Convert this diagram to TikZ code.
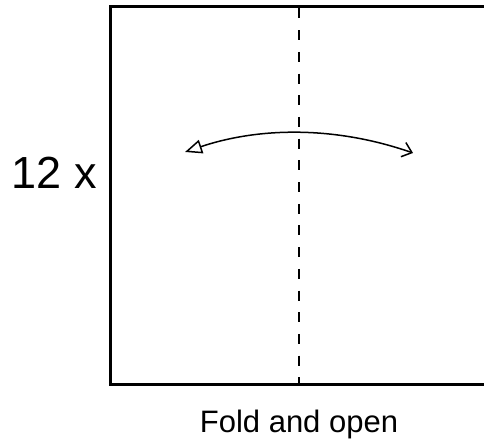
\documentclass[tikz,border=0pt]{standalone}
\usepackage{fontspec}
\setmainfont{Liberation Sans}
\usetikzlibrary{calc, positioning}
\usetikzlibrary{arrows.meta}

\begin{document}
\begin{tikzpicture}[x=1pt,y=1pt]
\useasboundingbox (0,0) rectangle (484,444);
\coordinate (A) at (110,59);
\coordinate (B) at (488.5,59);
\coordinate (C) at (488.5,437.5);
\coordinate (D) at (110,437.5);
\coordinate (MB) at ($(A)!0.5!(B)$);
\coordinate (MT) at ($(D)!0.5!(C)$);
\coordinate (L) at (185,292);
\coordinate (R) at (413,291);

\draw[line width=3pt] (A) -- (B) -- (C) -- (D) -- cycle;
\draw[line width=1.8pt,dash pattern=on 10pt off 11.7pt,dash phase=-2pt] (MT) -- (MB);

\draw[line width=1.5pt,
  {Triangle[open,length=17pt,width=14pt,fill=white]}-{Straight Barb[length=9pt,width=15pt]}]
  (L) .. controls (261,317.5) and (337,317.5) .. (R);

\node[anchor=base,font=\fontsize{45}{45}\selectfont] at (54.5,255) {12 x};
\node[anchor=base,font=\fontsize{31}{31}\selectfont] at (299,12) {Fold and open};
\end{tikzpicture}
\end{document}
